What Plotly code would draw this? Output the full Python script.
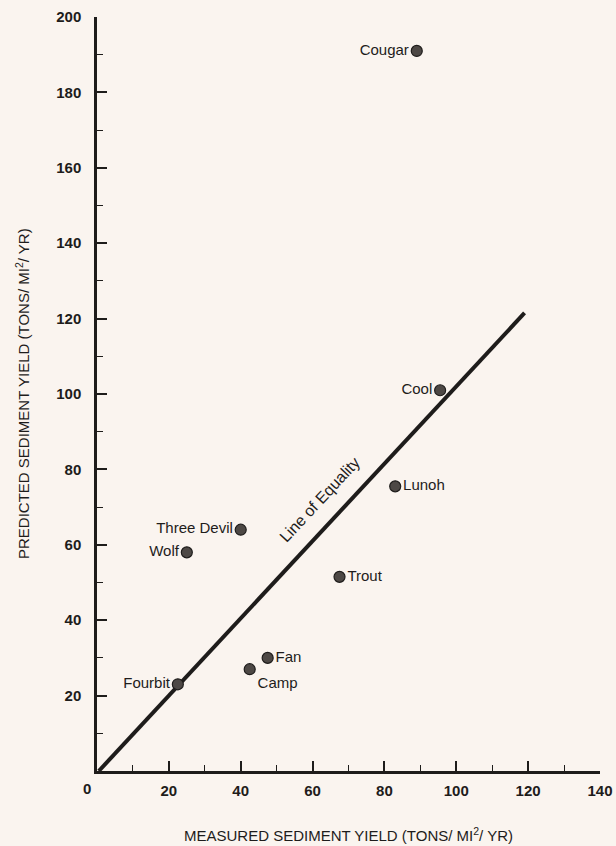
import plotly.graph_objects as go

# Data
sites = ["Cougar", "Cool", "Lunoh", "Trout", "Three Devil", "Wolf", "Fan", "Camp", "Fourbit"]
measured = [89, 95.5, 83, 67.5, 40, 25, 47.5, 42.5, 22.5]
predicted = [191, 101, 75.5, 51.5, 64, 58, 30, 27, 23]
label_pos = ["middle left", "middle left", "middle right", "middle right", "middle left",
             "middle left", "middle right", "bottom right", "middle left"]

equality_x = [0.5, 119]
equality_y = [0, 121.5]

x_ticks = [20, 40, 60, 80, 100, 120, 140]
y_ticks = [20, 40, 60, 80, 100, 120, 140, 160, 180, 200]

BG = "#faf4ef"
INK = "#1e1c1b"
FONT = "Liberation Sans, Arial, sans-serif"
TICKFONT = "Liberation Sans, Arial, sans-serif"

fig = go.Figure()

fig.add_trace(go.Scatter(
    x=equality_x, y=equality_y, mode="lines",
    line=dict(color=INK, width=4), hoverinfo="skip", showlegend=False))

fig.add_trace(go.Scatter(
    x=measured, y=predicted, mode="markers+text",
    text=sites, textposition=label_pos,
    textfont=dict(family=FONT, size=15, color=INK),
    marker=dict(size=11, color="#4d4845", line=dict(color=INK, width=1.2)),
    showlegend=False, cliponaxis=False))

axis_common = dict(
    showgrid=False, zeroline=False, showline=True, linecolor=INK, linewidth=2.5,
    ticks="inside", ticklen=10, tickwidth=1.5, tickcolor=INK, automargin=False,
    tickfont=dict(family=TICKFONT, size=15, color=INK, weight="bold"),
    minor=dict(ticks="inside", ticklen=6, tickwidth=1.2, tickcolor=INK, dtick=10, tick0=0),
)

fig.update_xaxes(range=[0, 140], tickmode="array", tickvals=x_ticks,
                 ticktext=[str(v) for v in x_ticks], ticklabelstandoff=4, **axis_common)
fig.update_yaxes(range=[0, 200], tickmode="array", tickvals=y_ticks,
                 ticktext=[str(v) for v in y_ticks], ticklabelstandoff=10, **axis_common)

fig.add_annotation(x=0, y=0, xref="x", yref="y", text="<b>0</b>", showarrow=False,
                   xshift=-10, yshift=-17, font=dict(family=TICKFONT, size=15, color=INK))

fig.add_annotation(x=62, y=72, xref="x", yref="y", text="Line of Equality",
                   showarrow=False, textangle=-47,
                   font=dict(family=FONT, size=16, color=INK))

fig.add_annotation(x=0.5, y=0, xref="paper", yref="paper",
                   text="MEASURED SEDIMENT YIELD (TONS/ MI<sup>2</sup>/ YR)",
                   showarrow=False, yshift=-63, yanchor="middle",
                   font=dict(family=FONT, size=15, color=INK))
fig.add_annotation(x=0, y=0.5, xref="paper", yref="paper",
                   text="PREDICTED SEDIMENT YIELD (TONS/ MI<sup>2</sup>/ YR)",
                   showarrow=False, xshift=-75, textangle=-90, xanchor="center",
                   font=dict(family=FONT, size=15, color=INK))

fig.update_layout(
    width=616, height=846,
    margin=dict(l=97, r=16, t=17, b=75),
    paper_bgcolor=BG, plot_bgcolor=BG,
    showlegend=False,
)

fig.write_html("out.html", config={"displayModeBar": False},
               post_script="document.body.style.margin='0';document.body.style.background='%s';" % BG)
